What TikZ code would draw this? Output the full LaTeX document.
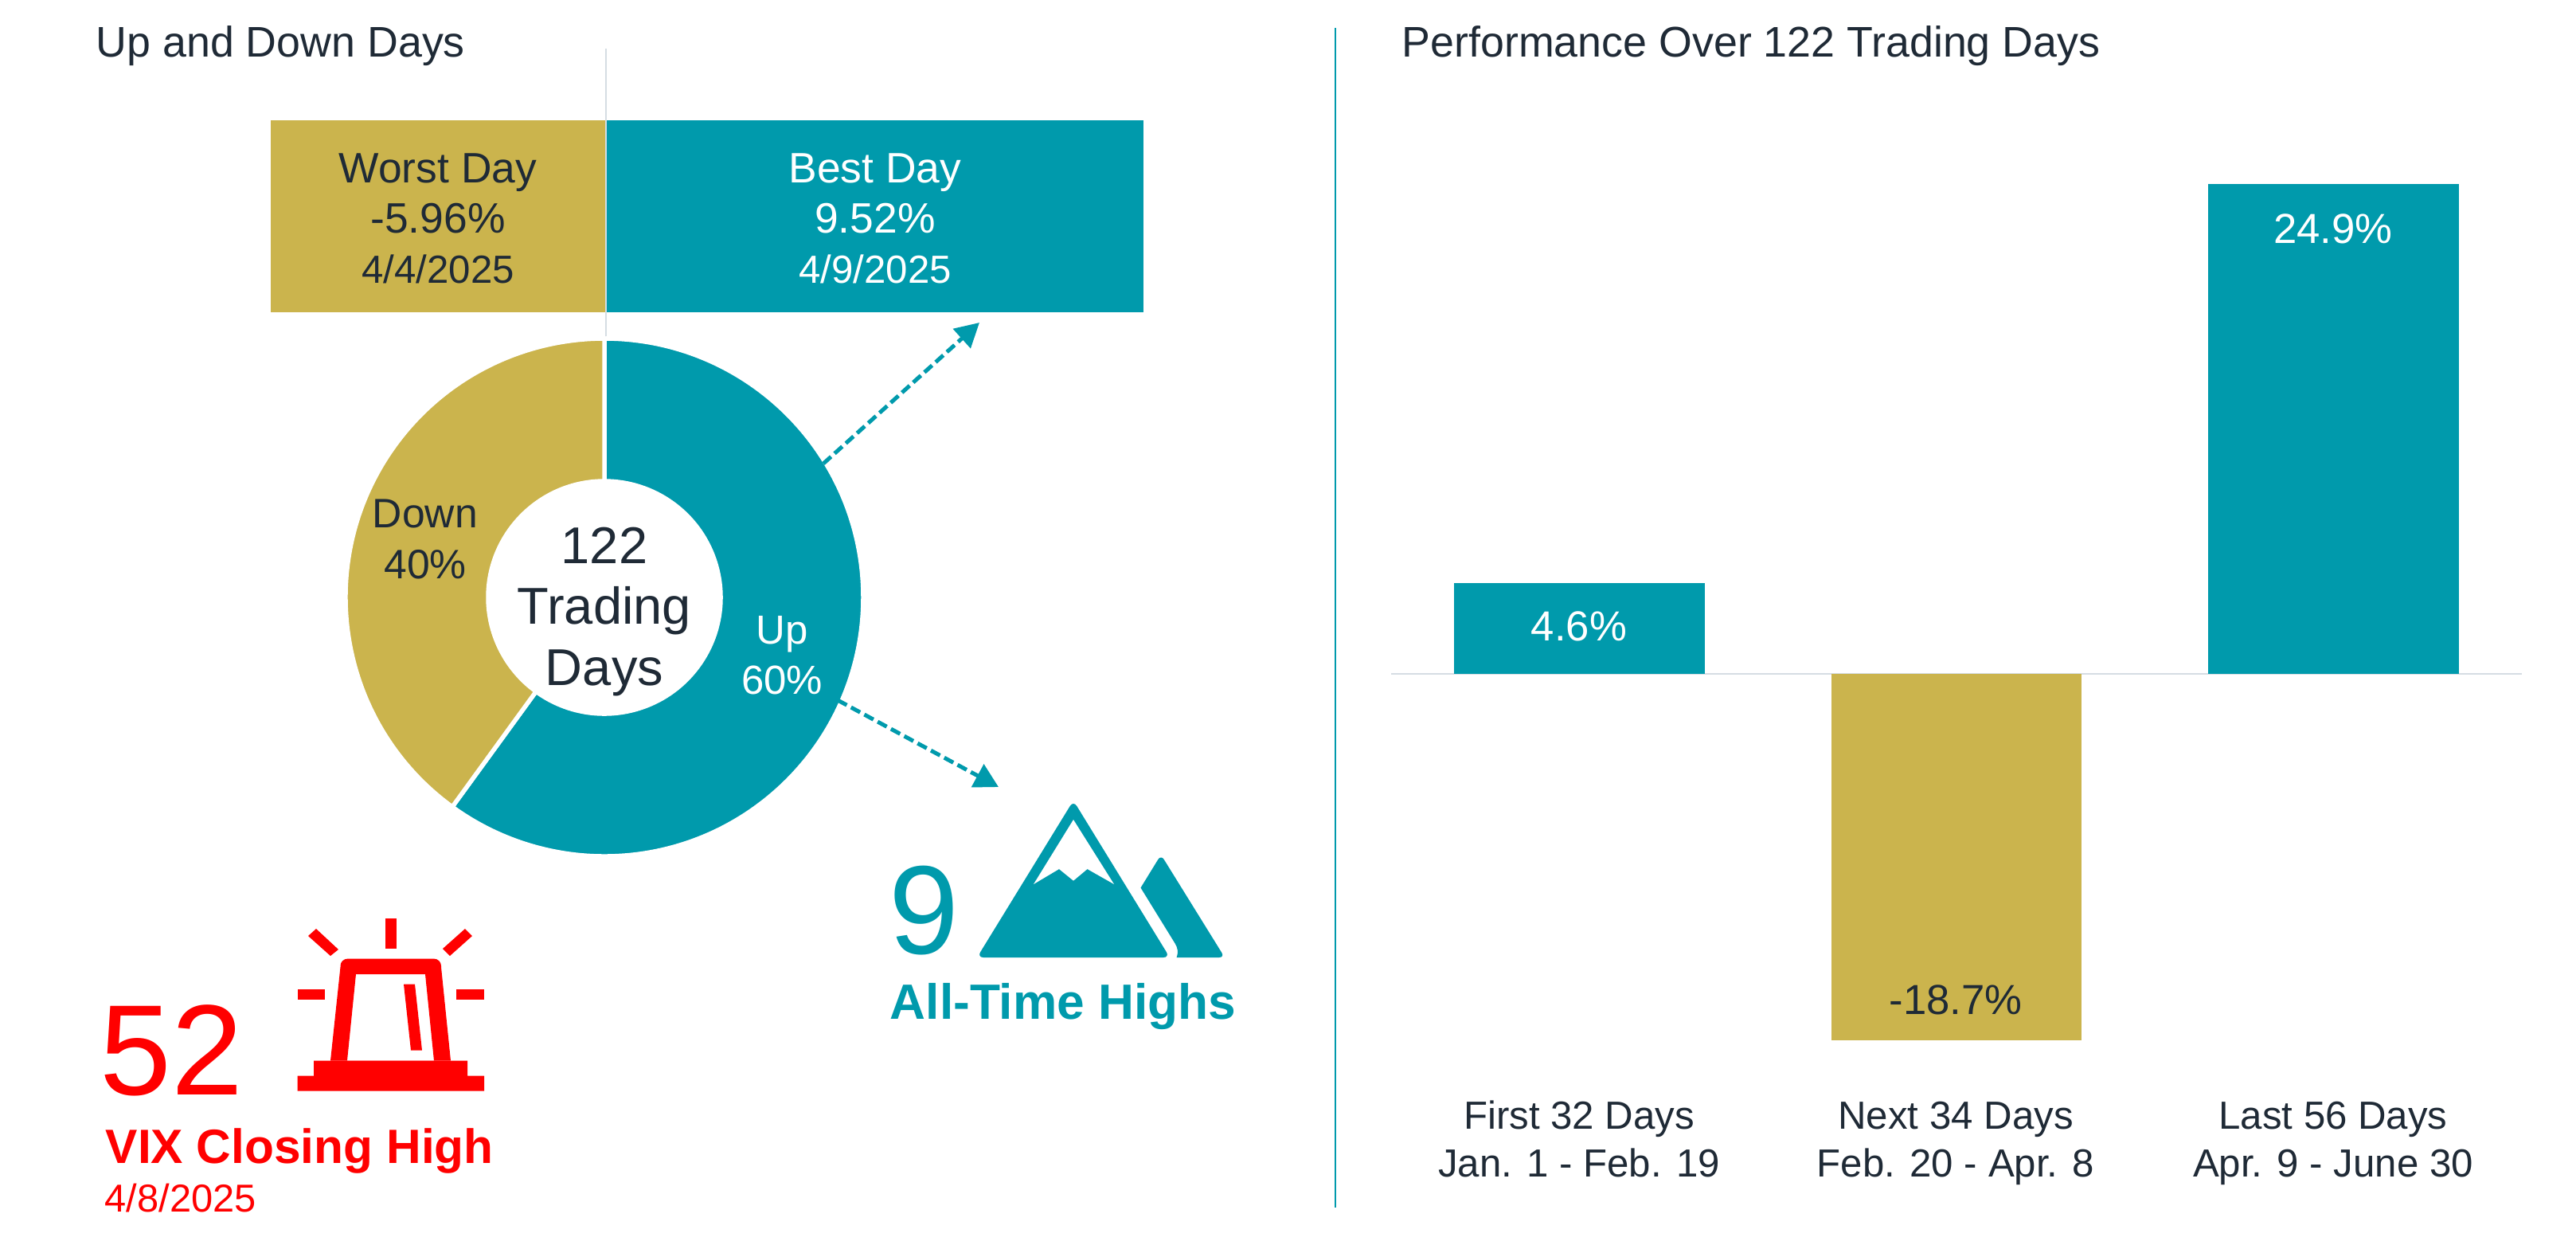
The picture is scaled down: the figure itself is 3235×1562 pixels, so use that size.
\documentclass[tikz,border=0pt]{standalone}
\usepackage{fontspec}
\setmainfont{Liberation Sans}
\usetikzlibrary{arrows.meta}
\definecolor{tealbar}{HTML}{009AAC}
\definecolor{goldbar}{HTML}{CBB44D}
\definecolor{inkdark}{HTML}{1F2A36}
\definecolor{rulegrey}{HTML}{D5DDE3}
\definecolor{vixred}{HTML}{FF0000}
\tikzstyle{title}=[anchor=base west,inner sep=0pt,text=inkdark,font=\fontsize{15.3}{18}\selectfont]
\tikzstyle{daybox}=[minimum height=24.1mm,inner sep=0pt]
\tikzstyle{daytext}=[inner sep=0pt,align=center,font=\fontsize{15.2}{18}\selectfont]
\tikzstyle{barlabel}=[inner sep=0pt,font=\fontsize{15}{18}\selectfont]
\tikzstyle{catlabel}=[anchor=base,inner sep=0pt,align=center,text=inkdark,font=\fontsize{14}{17}\selectfont]
\tikzstyle{slice}=[draw=white,line width=0.55mm]
\tikzstyle{callout}=[draw=tealbar,line width=0.5mm,dash pattern=on 1.3mm off 0.6mm,-{Triangle[length=3mm,width=3.2mm,fill=tealbar]}]
\begin{document}
\begin{tikzpicture}[x=0.1mm,y=0.1mm]
    \useasboundingbox (0,0) rectangle (3235,-1562);
    % Rules first, the boxes and the ring sit on top
    \draw[rulegrey,line width=0.2mm] (761,-61) -- (761,-423);
    \draw[tealbar,line width=0.25mm] (1677,-35) -- (1677,-1516);
    \draw[rulegrey,line width=0.25mm] (1747,-846) -- (3167,-846);
    % Titles
    \node[title] (leftTitle) at (120,-71) {Up and Down Days};
    \node[title] (rightTitle) at (1760,-71) {Performance Over 122 Trading Days};
    % Worst and best day
    \node[daybox,fill=goldbar,minimum width=42.05mm] (worst) at (550,-271.5) {};
    \node[daybox,fill=tealbar,minimum width=67.4mm] (best) at (1099,-271.5) {};
    \node[daytext,text=inkdark] (worstText) at ([yshift=-0.3mm]worst.center)
        {Worst Day\\-5.96\%\\{\fontsize{14}{18}\selectfont 4/4/2025}};
    \node[daytext,text=white] (bestText) at ([yshift=-0.3mm]best.center)
        {Best Day\\9.52\%\\{\fontsize{14}{18}\selectfont 4/9/2025}};
    % Ring, 60 and 40 percent
    \begin{scope}[shift={(759,-750)}]
        \path[slice,fill=tealbar] (90:325) arc[start angle=90,end angle=-126,radius=325]
            -- (-126:146) arc[start angle=-126,end angle=90,radius=146] -- cycle;
        \path[slice,fill=goldbar] (-126:325) arc[start angle=234,end angle=90,radius=325]
            -- (90:146) arc[start angle=90,end angle=234,radius=146] -- cycle;
    \end{scope}
    \node[inner sep=0pt,align=center,text=inkdark,font=\fontsize{18.5}{21.8}\selectfont] (center) at (759,-768) {122\\Trading\\Days};
    \node[inner sep=0pt,align=center,text=inkdark,font=\fontsize{14.7}{18}\selectfont] (down) at (534,-677) {Down\\40\%};
    \node[inner sep=0pt,align=center,text=white,font=\fontsize{14.5}{18}\selectfont] (up) at (982,-823) {Up\\60\%};
    % Dashed callouts
    \coordinate (bestFrom) at (1034,-582);
    \coordinate (bestTo) at (1230,-405);
    \coordinate (highFrom) at (1052,-879);
    \coordinate (highTo) at (1254,-988);
    \draw[callout] (bestFrom) -- (bestTo);
    \draw[callout] (highFrom) -- (highTo);
    % All-time highs
    \node[anchor=base,inner sep=0pt,text=tealbar,font=\fontsize{45}{50}\selectfont] (nine) at (1160,-1197) {9};
    \node[anchor=base,inner sep=0pt,text=tealbar,font=\fontsize{17.7}{21}\bfseries] (highs) at (1335,-1279) {All-Time Highs};
    \fill[tealbar,rounded corners=0.8mm] (1227,-1202) -- (1348,-1005) -- (1469,-1202) -- cycle;
    \fill[white] (1348,-1029) -- (1399,-1110) -- (1365.5,-1091) -- (1348,-1105.6) -- (1330,-1091) -- (1298,-1110) -- cycle;
    \fill[tealbar] (1432.5,-1114.5) [rounded corners=0.7mm] -- (1458,-1073) -- (1538,-1202) [sharp corners] -- (1477.6,-1202)
        .. controls (1480,-1195) and (1479,-1190) .. (1475.7,-1184.5) -- cycle;
    % VIX
    \node[anchor=base west,inner sep=0pt,text=vixred,font=\fontsize{46}{52}\selectfont] (vixValue) at (125,-1374) {52};
    \node[anchor=base west,inner sep=0pt,text=vixred,font=\fontsize{17.2}{20}\bfseries] (vixLabel) at (132,-1460) {VIX Closing High};
    \node[anchor=base west,inner sep=0pt,text=vixred,font=\fontsize{13.9}{16}\selectfont] (vixDate) at (131,-1521) {4/8/2025};
    % Siren
    \fill[vixred,even odd rule] (415,-1331.5) -- (427.5,-1214) [rounded corners=0.9mm] -- (427.5,-1203.6) -- (554,-1203.6) [sharp corners] -- (554,-1214) -- (566,-1331.5) -- cycle
        (436,-1331.5) -- (447,-1223) -- (534,-1223) -- (545,-1331.5) -- cycle;
    \fill[vixred] (394,-1331.5) -- (587,-1331.5) -- (587,-1350.5) -- (608,-1350.5) -- (608,-1369.5) -- (373.5,-1369.5) -- (373.5,-1350.5) -- (394,-1350.5) -- cycle;
    \fill[vixred] (507,-1235.5) -- (521,-1235.5) -- (530,-1318.6) -- (516,-1318.6) -- cycle;
    \fill[vixred] (483.7,-1153) rectangle (497.5,-1191);
    \fill[vixred] (373.5,-1242) rectangle (408,-1255);
    \fill[vixred] (573,-1242) rectangle (608,-1255);
    \fill[vixred] (397,-1166) -- (425,-1192) -- (415,-1200) -- (387,-1175) -- cycle;
    \fill[vixred] (584,-1166) -- (593,-1175) -- (565,-1200) -- (556,-1191) -- cycle;
    % Bars
    \fill[tealbar] (1826,-732) rectangle (2141,-846);
    \fill[goldbar] (2300,-846) rectangle (2614,-1306);
    \fill[tealbar] (2773,-231) rectangle (3088,-846);
    \foreach \pos/\name/\col/\val in {{(1983,-786)/firstVal/white/4.6\%}, {(2456,-1255)/nextVal/inkdark/-18.7\%}, {(2930,-287)/lastVal/white/24.9\%}}
        \node[barlabel,text=\col] (\name) at \pos {\val};
    \foreach \pos/\name/\cat in {{(1983,-1477)/firstCat/First 32 Days\\Jan. 1 - Feb. 19}, {(2456,-1477)/nextCat/Next 34 Days\\Feb. 20 - Apr. 8}, {(2930,-1477)/lastCat/Last 56 Days\\Apr. 9 - June 30}}
        \node[catlabel] (\name) at \pos {\cat};
\end{tikzpicture}
\end{document}
